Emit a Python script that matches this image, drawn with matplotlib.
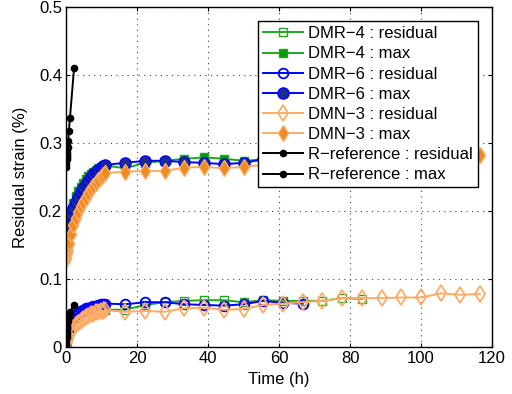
import matplotlib
matplotlib.use("Agg")
import matplotlib.pyplot as plt

plt.rcParams['font.family'] = ['Liberation Sans', 'DejaVu Sans']

# Time axes (h)
t_early = [0, 0.1, 0.2, 0.35, 0.5, 0.7, 1.39, 2.08, 2.78, 3.47, 4.17, 4.86,
           5.56, 6.25, 6.94, 7.64, 8.33, 9.03, 9.72, 10.42, 11.11]
t_late = [16.67, 22.22, 27.78, 33.33, 38.89, 44.44, 50.0, 55.56, 61.11,
          66.67, 72.22, 77.78, 83.33, 88.89, 94.44, 100.0, 105.56, 111.11, 116.67]
t_ref = [0, 0.05, 0.1, 0.15, 0.2, 0.25, 0.3, 0.4, 0.5, 0.6, 0.8, 1.1, 2.25]

# DMR-4
dmr4_res = [0.0, 0.010, 0.017, 0.024, 0.029, 0.034, 0.042, 0.047, 0.050, 0.052, 0.053,
            0.054, 0.054, 0.055, 0.055, 0.055, 0.055, 0.055, 0.055, 0.055, 0.055,
            0.055, 0.062, 0.066, 0.068, 0.069, 0.069, 0.066, 0.069, 0.068, 0.068,
            0.068, 0.072, 0.071]
dmr4_max = [0.150, 0.160, 0.168, 0.176, 0.182, 0.188, 0.200, 0.212, 0.222, 0.229, 0.236,
            0.242, 0.247, 0.251, 0.255, 0.258, 0.261, 0.263, 0.265, 0.266, 0.267,
            0.263, 0.271, 0.274, 0.277, 0.279, 0.277, 0.274, 0.276, 0.276, 0.277,
            0.277, 0.280, 0.279]

# DMR-6
dmr6_res = [0.0, 0.008, 0.014, 0.020, 0.025, 0.029, 0.037, 0.043, 0.047, 0.050, 0.053,
            0.055, 0.057, 0.058, 0.059, 0.060, 0.061, 0.062, 0.063, 0.063, 0.064,
            0.063, 0.066, 0.066, 0.063, 0.062, 0.061, 0.063, 0.068, 0.065, 0.064]
dmr6_max = [0.143, 0.155, 0.163, 0.170, 0.175, 0.180, 0.195, 0.205, 0.213, 0.221, 0.228,
            0.234, 0.240, 0.245, 0.250, 0.254, 0.258, 0.261, 0.264, 0.266, 0.268,
            0.271, 0.274, 0.274, 0.272, 0.271, 0.269, 0.271, 0.276, 0.275, 0.276]

# DMN-3
dmn3_res = [0.0, 0.004, 0.007, 0.010, 0.013, 0.016, 0.023, 0.028, 0.032, 0.036, 0.039,
            0.042, 0.044, 0.046, 0.048, 0.049, 0.051, 0.052, 0.053, 0.053, 0.054,
            0.052, 0.053, 0.052, 0.057, 0.058, 0.055, 0.056, 0.062, 0.064, 0.066,
            0.068, 0.072, 0.072, 0.072, 0.073, 0.073, 0.079, 0.077, 0.078]
dmn3_max = [0.130, 0.134, 0.138, 0.143, 0.148, 0.153, 0.167, 0.180, 0.190, 0.199, 0.207,
            0.214, 0.220, 0.226, 0.232, 0.237, 0.242, 0.246, 0.250, 0.253, 0.256,
            0.258, 0.259, 0.259, 0.264, 0.265, 0.263, 0.265, 0.268, 0.270, 0.272,
            0.274, 0.276, 0.276, 0.277, 0.278, 0.279, 0.281, 0.281, 0.282]

# R-reference
ref_res = [0.0, 0.005, 0.010, 0.015, 0.020, 0.024, 0.028, 0.033, 0.038, 0.042, 0.046,
           0.052, 0.062]
ref_max = [0.265, 0.270, 0.274, 0.277, 0.280, 0.283, 0.286, 0.290, 0.295, 0.303, 0.318,
           0.337, 0.410]

fig = plt.figure(figsize=(5.12, 3.94), dpi=100)
ax = fig.add_axes([0.129, 0.119, 0.832, 0.863])

green = '#1fa81f'
blue = '#0000ff'
orange = '#ffab66'

t4 = t_early + t_late[:len(dmr4_res) - len(t_early)]
t6 = t_early + t_late[:len(dmr6_res) - len(t_early)]
t3 = t_early + t_late[:len(dmn3_res) - len(t_early)]

lw = 1.4
ax.plot(t4, dmr4_res, '-s', color=green, lw=lw, ms=6, mfc='none', mec=green, label='DMR\u22124 : residual')
ax.plot(t4, dmr4_max, '-s', color=green, lw=lw, ms=6, mfc='#0c960c', mec=green, label='DMR\u22124 : max')
ax.plot(t6, dmr6_res, '-o', color=blue, lw=lw, ms=7, mfc='none', mec=blue, mew=1.3, label='DMR\u22126 : residual')
ax.plot(t6, dmr6_max, '-o', color=blue, lw=lw, ms=8, mfc='#1c2c8c', mec=blue, label='DMR\u22126 : max')
ax.plot(t3, dmn3_res, '-d', color=orange, lw=lw, ms=8, mfc='none', mec=orange, mew=1.3, label='DMN\u22123 : residual')
ax.plot(t3, dmn3_max, '-d', color=orange, lw=lw, ms=8, mfc='#ee8a22', mec=orange, label='DMN\u22123 : max')
ax.plot(t_ref, ref_res, '-o', color='black', lw=lw, ms=4.5, label='R\u2212reference : residual')
ax.plot(t_ref, ref_max, '-o', color='black', lw=lw, ms=4.5, label='R\u2212reference : max')

ax.set_xlim(0, 120)
ax.set_ylim(0, 0.5)
ax.set_xticks([0, 20, 40, 60, 80, 100, 120])
ax.set_yticks([0, 0.1, 0.2, 0.3, 0.4, 0.5])
ax.set_yticklabels(['0', '0.1', '0.2', '0.3', '0.4', '0.5'])
ax.tick_params(direction='in', top=True, right=True, labelsize=12, length=3, pad=3)
ax.grid(True, linestyle=(0, (1, 4)), color='#444444', linewidth=0.8)
for s in ax.spines.values():
    s.set_linewidth(1.0)

ax.set_xlabel('Time (h)', fontsize=12, labelpad=4)
ax.set_ylabel('Residual strain (%)', fontsize=12, labelpad=8)

leg = ax.legend(loc='upper right', fontsize=12, handlelength=2.4, labelspacing=0.31,
                borderaxespad=0.85, fancybox=False, framealpha=1, edgecolor='black',
                handletextpad=0.3, borderpad=0.3)
leg.get_frame().set_linewidth(1.0)

fig.savefig('out.png', dpi=100)
